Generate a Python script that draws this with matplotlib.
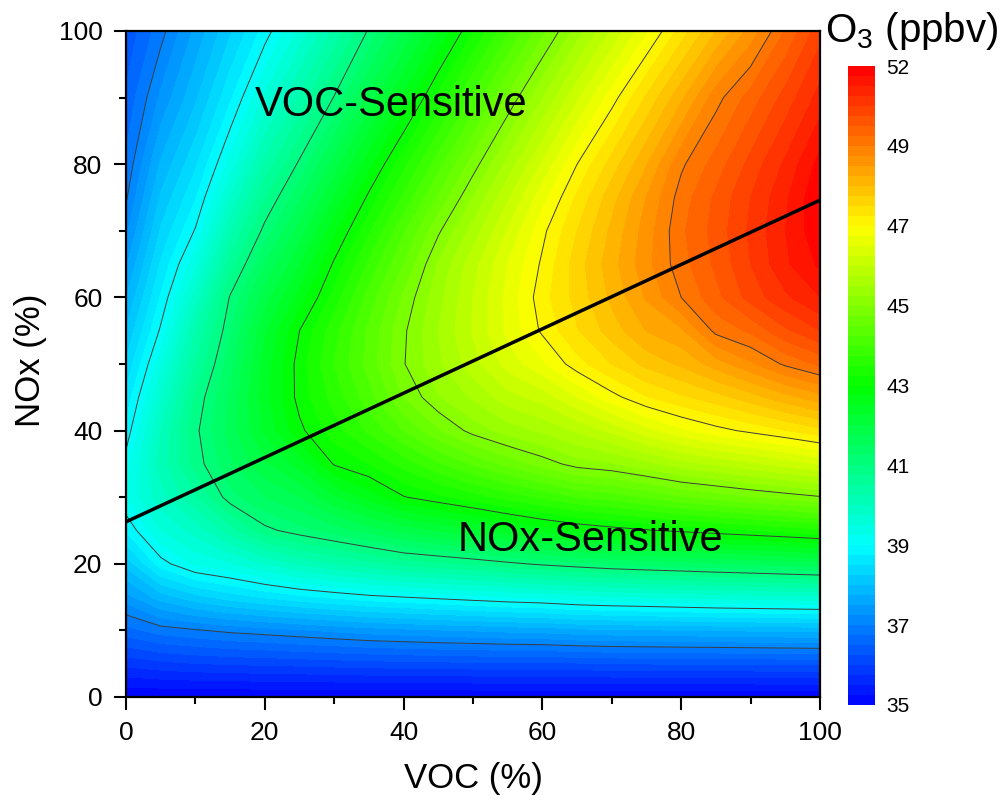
import numpy as np
import matplotlib
matplotlib.use('Agg')
import matplotlib.pyplot as plt
from matplotlib.colors import LinearSegmentedColormap
from matplotlib.ticker import MultipleLocator

# grid (VOC and NOx in % of base emissions)
voc = [0, 5, 10, 15, 20, 25, 30, 35, 40, 45, 50, 55, 60, 65, 70, 75, 80, 85, 90, 95, 100]
nox = [0, 5, 10, 15, 20, 25, 30, 35, 40, 45, 50, 55, 60, 65, 70, 75, 80, 90, 100]

# O3 (ppbv): one list per VOC column, values going up the NOx levels above
o3_by_voc = [
    [35, 35.83, 36.65, 37.4, 38.09, 38.78, 39.25, 39.12, 38.84, 38.57, 38.29, 38.02, 37.74, 37.46, 37.19, 36.96, 36.8, 36.55, 36.3],
    [35, 35.93, 36.87, 37.87, 38.88, 39.5, 39.9, 40.1, 40.0, 39.75, 39.4, 39.05, 38.78, 38.53, 38.28, 38.04, 37.79, 37.3, 36.9],
    [35, 35.99, 36.97, 38.16, 39.3, 39.85, 40.45, 40.85, 40.93, 40.8, 40.5, 40.25, 39.85, 39.43, 39.03, 38.72, 38.45, 37.95, 37.56],
    [35, 36.03, 37.07, 38.37, 39.47, 40.37, 41.15, 41.45, 41.6, 41.55, 41.4, 41.2, 41.03, 40.61, 40.19, 39.76, 39.34, 38.7, 38.21],
    [35, 36.05, 37.14, 38.53, 39.76, 40.91, 41.5, 41.95, 42.3, 42.4, 42.35, 42.2, 41.88, 41.5, 41.1, 40.72, 40.33, 39.55, 38.86],
    [35, 36.08, 37.22, 38.68, 40.03, 41.15, 41.75, 42.35, 42.93, 43.1, 43.12, 43.0, 42.61, 42.22, 41.84, 41.45, 41.06, 40.3, 39.57],
    [35, 36.11, 37.3, 38.8, 40.23, 41.36, 42.21, 43.03, 43.38, 43.6, 43.75, 43.65, 43.35, 43.05, 42.68, 42.27, 41.85, 41.02, 40.31],
    [35, 36.14, 37.38, 38.92, 40.4, 41.6, 42.6, 43.25, 43.8, 44.15, 44.35, 44.3, 44.1, 43.8, 43.45, 43.07, 42.66, 41.84, 41.04],
    [35, 36.16, 37.43, 39.0, 40.59, 41.84, 42.98, 43.6, 44.25, 44.75, 44.98, 44.95, 44.8, 44.5, 44.2, 43.8, 43.42, 42.55, 41.77],
    [35, 36.18, 37.48, 39.08, 40.69, 42.02, 43.18, 43.96, 44.72, 45.22, 45.45, 45.5, 45.42, 45.28, 44.95, 44.54, 44.14, 43.32, 42.5],
    [35, 36.19, 37.52, 39.16, 40.8, 42.2, 43.38, 44.28, 45.1, 45.54, 45.9, 46.03, 46.0, 45.9, 45.6, 45.26, 44.87, 44.05, 43.23],
    [35, 36.2, 37.57, 39.24, 40.93, 42.41, 43.59, 44.58, 45.36, 45.9, 46.35, 46.57, 46.58, 46.5, 46.27, 45.96, 45.58, 44.79, 43.95],
    [35, 36.2, 37.6, 39.3, 41.06, 42.6, 43.79, 44.85, 45.55, 46.1, 46.7, 47.05, 47.15, 47.05, 46.93, 46.65, 46.29, 45.49, 44.67],
    [35, 36.22, 37.67, 39.4, 41.17, 42.75, 44.0, 45.12, 45.79, 46.5, 47.15, 47.48, 47.59, 47.63, 47.5, 47.3, 47.0, 46.2, 45.36],
    [35, 36.25, 37.7, 39.46, 41.27, 42.87, 44.11, 45.23, 46.07, 46.9, 47.5, 47.87, 48.06, 48.15, 48.06, 47.9, 47.61, 46.88, 46.03],
    [35, 36.26, 37.72, 39.5, 41.34, 42.97, 44.27, 45.43, 46.41, 47.23, 47.82, 48.26, 48.53, 48.67, 48.62, 48.51, 48.23, 47.54, 46.7],
    [35, 36.27, 37.74, 39.55, 41.4, 43.06, 44.46, 45.65, 46.69, 47.45, 48.05, 48.45, 49.0, 49.15, 49.2, 49.12, 48.95, 48.19, 47.36],
    [35, 36.27, 37.76, 39.6, 41.47, 43.15, 44.59, 45.8, 46.9, 47.65, 48.37, 49.08, 49.42, 49.55, 49.6, 49.55, 49.36, 48.9, 48.0],
    [35, 36.28, 37.78, 39.63, 41.53, 43.24, 44.73, 45.94, 47.07, 47.89, 48.7, 49.3, 49.85, 50.0, 50.05, 50.0, 49.84, 49.36, 48.59],
    [35, 36.29, 37.8, 39.66, 41.6, 43.33, 44.85, 46.1, 47.24, 48.16, 49.05, 49.7, 50.2, 50.45, 50.5, 50.45, 50.3, 49.85, 49.27],
    [35, 36.3, 37.82, 39.69, 41.67, 43.43, 44.97, 46.27, 47.43, 48.4, 49.3, 50.0, 50.5, 50.8, 50.95, 50.99, 50.85, 50.35, 49.9],
]

line_levels = [37, 39, 41, 43, 45, 47, 49, 51]

# ridge line separating the two regimes
ridge_voc = [0, 100]
ridge_nox = [26.3, 74.6]

cbar_ticks = [35, 37, 39, 41, 43, 45, 47, 49, 51]
cbar_labels = ['35', '37', '39', '41', '43', '45', '47', '49', '52']

plt.rcParams['font.family'] = ['Liberation Sans', 'DejaVu Sans']
plt.rcParams['mathtext.fontset'] = 'custom'
plt.rcParams['mathtext.rm'] = 'Liberation Sans'

o3 = np.array(o3_by_voc).T  # rows = NOx, columns = VOC

fig = plt.figure(figsize=(10, 8), dpi=100)
ax = fig.add_axes([0.126, 0.12875, 0.694, 0.8325])
cax = fig.add_axes([0.848, 0.11875, 0.027, 0.79875])

cmap = LinearSegmentedColormap.from_list(
    'o3', ['#0000ff', '#00ffff', '#00ff00', '#ffff00', '#ff0000'])
levels = np.arange(35, 51.01, 0.25)

cf = ax.contourf(voc, nox, o3, levels=levels, cmap=cmap, vmin=35, vmax=51)
ax.contour(voc, nox, o3, levels=line_levels, colors='#3c3c3c', linewidths=0.7)
ax.plot(ridge_voc, ridge_nox, color='black', lw=2.5)

ax.text(18.6, 88.9, 'VOC-Sensitive', fontsize=30, ha='left', va='center')
ax.text(47.8, 23.6, 'NOx-Sensitive', fontsize=30, ha='left', va='center')

ax.set_xlim(0, 100)
ax.set_ylim(0, 100)
ax.xaxis.set_major_locator(MultipleLocator(20))
ax.xaxis.set_minor_locator(MultipleLocator(10))
ax.yaxis.set_major_locator(MultipleLocator(20))
ax.yaxis.set_minor_locator(MultipleLocator(10))
ax.tick_params(which='major', direction='out', length=9, width=1.5,
               labelsize=19, pad=8)
ax.tick_params(which='minor', direction='out', length=5, width=1.5)
for s in ax.spines.values():
    s.set_linewidth(1.6)

ax.set_xlabel('VOC (%)', fontsize=25)
ax.set_ylabel('NOx (%)', fontsize=25)
ax.xaxis.label.set_va('center')
ax.yaxis.label.set_va('center')
ax.xaxis.set_label_coords(0.5, -0.122)
ax.yaxis.set_label_coords(-0.138, 0.506)

cb = fig.colorbar(cf, cax=cax, ticks=cbar_ticks)
cb.ax.set_yticklabels(cbar_labels)
cb.outline.set_visible(False)
cax.tick_params(length=0, labelsize=15, pad=8)
cax.minorticks_off()

fig.text(0.825, 0.9475, r'O$_3$ (ppbv)', fontsize=29, ha='left', va='baseline')

fig.savefig('out.png', dpi=100)
